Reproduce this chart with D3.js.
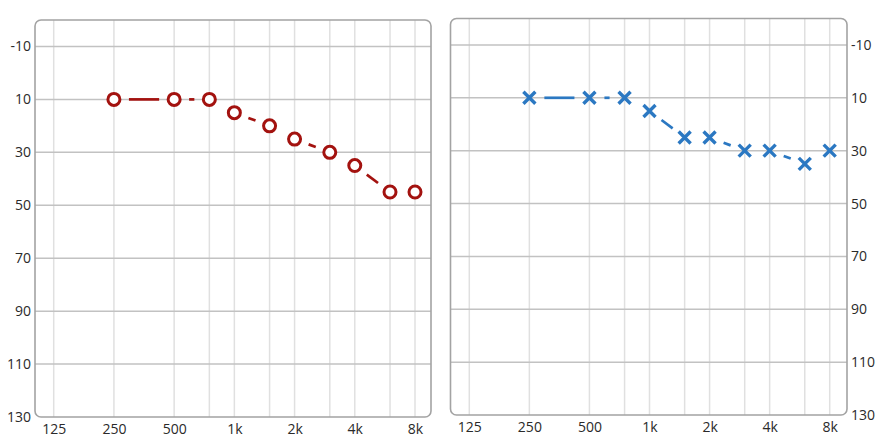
<!DOCTYPE html>
<html>
<head>
<meta charset="utf-8">
<script src="https://cdn.jsdelivr.net/npm/d3@7"></script>
<style>
  html, body { margin: 0; padding: 0; background: #ffffff; }
  svg { display: block; }
  text { font-family: "Open Sans", "Noto Sans", sans-serif; }
</style>
</head>
<body>
<svg id="chart" width="882" height="441"></svg>
<script>
// ---- data ----
const gridFrequencies = [125, 250, 500, 750, 1000, 1500, 2000, 3000, 4000, 6000, 8000];
const xTickFrequencies = [125, 250, 500, 1000, 2000, 4000, 8000];
const xTickLabels = ["125", "250", "500", "1k", "2k", "4k", "8k"];
const yTickValues = [-10, 10, 30, 50, 70, 90, 110, 130];
const yTickLabels = ["-10", "10", "30", "50", "70", "90", "110", "130"];
const yGridValues = [-10, 10, 30, 50, 70, 90, 110];
const testFrequencies = [250, 500, 750, 1000, 1500, 2000, 3000, 4000, 6000, 8000];
const circleSeries = [10, 10, 10, 15, 20, 25, 30, 35, 45, 45];
const crossSeries = [10, 10, 10, 15, 25, 25, 30, 30, 35, 30];

// ---- layout ----
const svg = d3.select("#chart");
const panels = [
  { left: 35, top: 20, right: 431, bottom: 417, xr: [53.7, 415], values: circleSeries, marker: "circle", color: "#a3120f", axisSide: "left" },
  { left: 450.5, top: 18.5, right: 847, bottom: 415, xr: [469.3, 829.7], values: crossSeries, marker: "cross", color: "#2b78c2", axisSide: "right" }
];

panels.forEach(p => {
  const x = d3.scaleLog().domain([125, 8000]).range(p.xr);
  const y = d3.scaleLinear().domain([-20, 130]).range([p.top, p.bottom]);
  const g = svg.append("g");

  g.append("rect")
    .attr("x", p.left).attr("y", p.top)
    .attr("width", p.right - p.left).attr("height", p.bottom - p.top)
    .attr("rx", 6).attr("ry", 6)
    .attr("fill", "#ffffff");

  // vertical grid
  g.selectAll(".vg").data(gridFrequencies).enter().append("line")
    .attr("x1", d => x(d)).attr("x2", d => x(d))
    .attr("y1", p.top).attr("y2", p.bottom)
    .attr("stroke", "#e0e0e0").attr("stroke-width", 1.5);

  // horizontal grid
  g.selectAll(".hg").data(yGridValues).enter().append("line")
    .attr("x1", p.left).attr("x2", p.right)
    .attr("y1", d => y(d)).attr("y2", d => y(d))
    .attr("stroke", "#c2c2c2").attr("stroke-width", 1.5);

  // border
  g.append("rect")
    .attr("x", p.left).attr("y", p.top)
    .attr("width", p.right - p.left).attr("height", p.bottom - p.top)
    .attr("rx", 6).attr("ry", 6)
    .attr("fill", "none").attr("stroke", "#a3a3a3").attr("stroke-width", 1.6);

  // y axis labels
  const yAxis = (p.axisSide === "left" ? d3.axisLeft(y) : d3.axisRight(y))
    .tickValues(yTickValues).tickFormat((d, i) => yTickLabels[i])
    .tickSize(0).tickPadding(4);
  const ya = g.append("g")
    .attr("transform", `translate(${p.axisSide === "left" ? p.left : p.right},0)`)
    .call(yAxis);
  ya.select(".domain").remove();
  ya.selectAll("text").attr("fill", "#2a2a2a").style("font-size", "14px");

  // x axis labels
  const xAxis = d3.axisBottom(x).tickValues(xTickFrequencies)
    .tickFormat((d, i) => xTickLabels[i]).tickSize(0).tickPadding(7.5);
  const xa = g.append("g").attr("transform", `translate(0,${p.bottom})`).call(xAxis);
  xa.select(".domain").remove();
  xa.selectAll("text").attr("fill", "#2a2a2a").style("font-size", "14px");

  // connecting segments, shortened around markers
  const pts = testFrequencies.map((f, i) => [x(f), y(p.values[i])]);
  const gap = 15;
  const segs = [];
  for (let i = 0; i < pts.length - 1; i++) {
    const [x1, y1] = pts[i], [x2, y2] = pts[i + 1];
    const len = Math.hypot(x2 - x1, y2 - y1);
    if (len > 2 * gap) {
      const ux = (x2 - x1) / len, uy = (y2 - y1) / len;
      segs.push([x1 + ux * gap, y1 + uy * gap, x2 - ux * gap, y2 - uy * gap]);
    }
  }
  g.selectAll(".seg").data(segs).enter().append("line")
    .attr("x1", d => d[0]).attr("y1", d => d[1])
    .attr("x2", d => d[2]).attr("y2", d => d[3])
    .attr("stroke", p.color).attr("stroke-width", 2.7);

  // markers
  if (p.marker === "circle") {
    g.selectAll(".mk").data(pts).enter().append("circle")
      .attr("cx", d => d[0]).attr("cy", d => d[1]).attr("r", 6)
      .attr("fill", "#ffffff").attr("stroke", p.color).attr("stroke-width", 3);
  } else {
    const s = 6;
    g.selectAll(".mk").data(pts).enter().append("path")
      .attr("d", d => `M${d[0]-s},${d[1]-s}L${d[0]+s},${d[1]+s}M${d[0]-s},${d[1]+s}L${d[0]+s},${d[1]-s}`)
      .attr("fill", "none").attr("stroke", p.color).attr("stroke-width", 3.4);
  }
});
</script>
</body>
</html>
